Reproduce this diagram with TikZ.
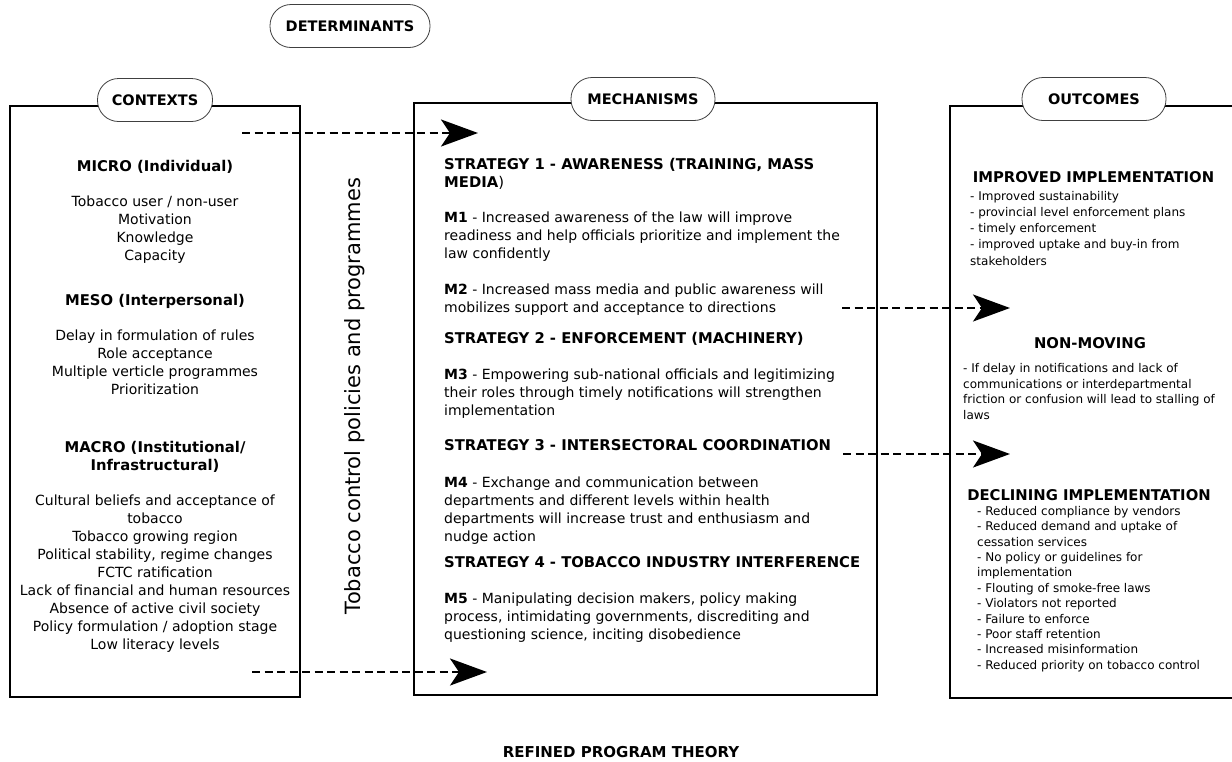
\documentclass[tikz,border=0pt]{standalone}
\usepackage{fontspec}
\setmainfont{DejaVu Sans}
\usepackage{tikz}
\usetikzlibrary{arrows.meta}

\tikzset{
  panel/.style={draw, line width=2.6pt, inner sep=0pt},
  pill/.style={draw=black!75, line width=0.8pt, fill=white, rounded corners=21pt,
    minimum height=43pt, inner sep=0pt, font=\bfseries\fontsize{14.5}{17}\selectfont},
  body/.style={inner sep=0pt, font=\fontsize{14}{18}\selectfont},
  head/.style={inner sep=0pt, font=\bfseries\fontsize{14.8}{18}\selectfont},
  rhead/.style={inner sep=0pt, anchor=north, font=\bfseries\fontsize{14.8}{18}\selectfont},
  rlist/.style={inner sep=0pt, anchor=north west, align=left, font=\fontsize{12}{15.4}\selectfont},
  flow/.style={line width=2.5pt, dash pattern=on 8pt off 4.5pt,
    -{Stealth[length=37pt,width=27pt,inset=9pt]}}
}

\begin{document}
\begin{tikzpicture}[x=1pt,y=-1pt]
\useasboundingbox (0,0) rectangle (1232,761);
\clip (0,0) rectangle (1232,761);

\node[panel, minimum width=290pt, minimum height=591pt] (ctxbox) at (155,401.5) {};
\node[panel, minimum width=463pt, minimum height=592pt] (mechbox) at (645.5,399) {};
\node[panel, minimum width=290pt, minimum height=592pt] (outbox) at (1095,402) {};

\node[pill, minimum width=160pt] (determinants) at (350,26) {DETERMINANTS};
\node[pill, minimum width=115pt] (contexts) at (155,100) {CONTEXTS};
\node[pill, minimum width=144pt] (mechanisms) at (643,99) {MECHANISMS};
\node[pill, minimum width=144pt] (outcomes) at (1094,99) {OUTCOMES};

\node[head, anchor=north] (micro) at (155,160.5) {MICRO (Individual)};
\node[body, anchor=north, align=center] (microlist) at (155,195.5) {Tobacco user / non-user\\Motivation\\Knowledge\\Capacity};
\node[head, anchor=north] (meso) at (155,294.5) {MESO (Interpersonal)};
\node[body, anchor=north, align=center] (mesolist) at (155,329.5) {Delay in formulation of rules\\Role acceptance\\Multiple verticle programmes\\Prioritization};
\node[head, anchor=north, align=center] (macro) at (155,441.5) {MACRO (Institutional/\\Infrastructural)};
\node[body, anchor=north, align=center] (macrolist) at (155,494.5) {Cultural beliefs and acceptance of\\tobacco\\Tobacco growing region\\Political stability, regime changes\\FCTC ratification\\Lack of financial and human resources\\Absence of active civil society\\Policy formulation / adoption stage\\Low literacy levels};

\node[rotate=90, inner sep=0pt, font=\fontsize{21}{25}\selectfont] (policies) at (355,396) {Tobacco control policies and programmes};

\node[head, anchor=north west, align=left] (strat1) at (444,158.5) {STRATEGY 1 - AWARENESS (TRAINING, MASS\\MEDIA{\mdseries)}};
\node[body, anchor=north west, align=left] (m1) at (444,211.5) {\textbf{M1} - Increased awareness of the law will improve\\readiness and help officials prioritize and implement the\\law confidently};
\node[body, anchor=north west, align=left] (m2) at (444,283.5) {\textbf{M2} - Increased mass media and public awareness will\\mobilizes support and acceptance to directions};
\node[head, anchor=north west] (strat2) at (444,332.5) {STRATEGY 2 - ENFORCEMENT (MACHINERY)};
\node[body, anchor=north west, align=left] (m3) at (444,368.5) {\textbf{M3} - Empowering sub-national officials and legitimizing\\their roles through timely notifications will strengthen\\implementation};
\node[head, anchor=north west] (strat3) at (444,439.5) {STRATEGY 3 - INTERSECTORAL COORDINATION};
\node[body, anchor=north west, align=left] (m4) at (444,476.5) {\textbf{M4} - Exchange and communication between\\departments and different levels within health\\departments will increase trust and enthusiasm and\\nudge action};
\node[head, anchor=north west] (strat4) at (444,556.5) {STRATEGY 4 - TOBACCO INDUSTRY INTERFERENCE};
\node[body, anchor=north west, align=left] (m5) at (444,592.5) {\textbf{M5} - Manipulating decision makers, policy making\\process, intimidating governments, discrediting and\\questioning science, inciting disobedience};

\node[rhead] (improved) at (1093.5,171) {IMPROVED IMPLEMENTATION};
\node[rlist, font=\fontsize{12}{16.2}\selectfont] (improvedlist) at (970,191) {- Improved sustainability\\- provincial level enforcement plans\\- timely enforcement\\- improved uptake and buy-in from\\stakeholders};
\node[rhead] (nonmoving) at (1090,337) {NON-MOVING};
\node[rlist, font=\fontsize{12}{15.7}\selectfont] (nonmovinglist) at (963,363) {- If delay in notifications and lack of\\communications or interdepartmental\\friction or confusion will lead to stalling of\\laws};
\node[rhead] (declining) at (1089,489) {DECLINING IMPLEMENTATION};
\node[rlist] (declininglist) at (977,506) {- Reduced compliance by vendors\\- Reduced demand and uptake of\\cessation services\\- No policy or guidelines for\\implementation\\- Flouting of smoke-free laws\\- Violators not reported\\- Failure to enforce\\- Poor staff retention\\- Increased misinformation\\- Reduced priority on tobacco control};

\node[inner sep=0pt, anchor=base, font=\bfseries\fontsize{15}{18}\selectfont] (theory) at (621,757) {REFINED PROGRAM THEORY};

\coordinate (ctxtop) at (242,133);
\coordinate (mechtop) at (478,133);
\coordinate (ctxbot) at (252,672);
\coordinate (mechbot) at (487,672);
\coordinate (mechup) at (842,308);
\coordinate (outup) at (1010,308);
\coordinate (mechlow) at (843,454);
\coordinate (outlow) at (1010,454);

\draw[flow] (ctxtop) -- (mechtop);
\draw[flow] (ctxbot) -- (mechbot);
\draw[flow] (mechup) -- (outup);
\draw[flow] (mechlow) -- (outlow);
\end{tikzpicture}
\end{document}
